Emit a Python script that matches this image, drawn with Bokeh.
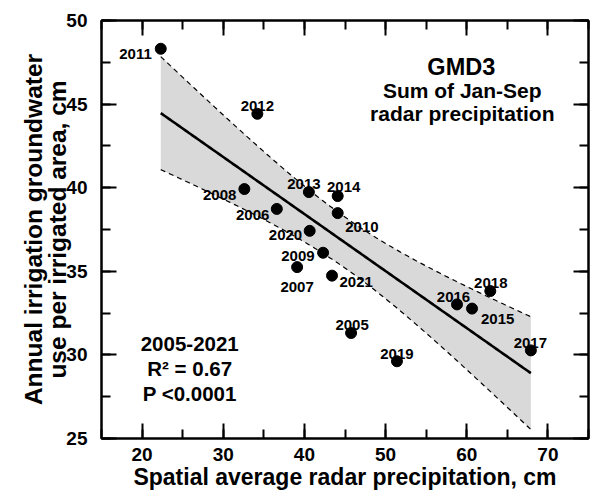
import numpy as np
from bokeh.plotting import figure
from bokeh.models import (Range1d, SingleIntervalTicker, LinearAxis, Label,
                          ColumnDataSource)
from bokeh.core.properties import value
from bokeh.embed import file_html
from bokeh.resources import INLINE

# ---------------- data ----------------
years = ["2011", "2012", "2008", "2006", "2013", "2014", "2010", "2020", "2009",
         "2007", "2021", "2016", "2015", "2018", "2005", "2019", "2017"]
precip_cm = [22.3, 34.2, 32.6, 36.6, 40.55, 44.1, 44.1, 40.65, 42.3,
             39.1, 43.4, 58.8, 60.65, 62.9, 45.75, 51.4, 67.9]
gw_use_cm = [48.31, 44.42, 39.92, 38.73, 39.74, 39.50, 38.48, 37.42, 36.11,
             35.25, 34.74, 33.02, 32.77, 33.82, 31.31, 29.62, 30.27]
x_ticks_major = 10
y_ticks_major = 5

# label placement (style): align, dx px, dy px (to alphabetic baseline)
placement = {
    "2011": ("right", -9, 5.5), "2012": ("center", 0, -7.5),
    "2008": ("right", -8, 6), "2006": ("right", -7.5, 6),
    "2013": ("center", -5, -8.5), "2014": ("center", 6, -9),
    "2010": ("left", 7.5, 14), "2020": ("right", -7.5, 4),
    "2009": ("right", -8.5, 3), "2007": ("center", 0, 20),
    "2021": ("left", 7.5, 6.5), "2016": ("center", -3.5, -7.5),
    "2015": ("left", 9, 10.5), "2018": ("center", 0.5, -8),
    "2005": ("center", 1, -7.5), "2019": ("center", 0, -7.5),
    "2017": ("center", -0.5, -7.5),
}

FONT = "Liberation Sans"

# ---------------- regression with 95% confidence band ----------------
xs = np.array(precip_cm)
ys = np.array(gw_use_cm)
n = len(xs)
slope, intercept = np.polyfit(xs, ys, 1)
xm = xs.mean()
sxx = ((xs - xm) ** 2).sum()
resid = ys - (intercept + slope * xs)
s = np.sqrt((resid ** 2).sum() / (n - 2))
t95 = 2.1314  # t(0.975, df=15)
xg = np.linspace(xs.min(), xs.max(), 200)
yhat = intercept + slope * xg
hw = t95 * s * np.sqrt(1.0 / n + (xg - xm) ** 2 / sxx)

# ---------------- figure ----------------
p = figure(width=600, height=493, x_range=Range1d(15, 75), y_range=Range1d(25, 50),
           output_backend="svg", toolbar_location=None,
           min_border_left=101, min_border_right=12, min_border_top=20,
           min_border_bottom=55)
p.xgrid.visible = False
p.ygrid.visible = False
p.outline_line_color = "black"
p.outline_line_width = 2
p.background_fill_color = "white"
p.border_fill_color = "white"

def style_axis(ax, show_labels):
    ax.axis_line_width = 2
    ax.axis_line_color = "black"
    ax.major_tick_in = 15
    ax.major_tick_out = 0
    ax.minor_tick_in = 9
    ax.minor_tick_out = 0
    ax.major_tick_line_width = 2
    ax.minor_tick_line_width = 2
    ax.major_tick_line_color = "black"
    ax.minor_tick_line_color = "black"
    ax.major_label_text_font = FONT
    ax.major_label_text_font_style = "bold"
    if show_labels:
        ax.major_label_text_color = "black"
        ax.major_label_text_font_size = "19px"
    else:
        ax.major_label_text_color = None
        ax.major_label_text_font_size = "1px"
        ax.major_label_standoff = 0

xt = SingleIntervalTicker(interval=x_ticks_major, num_minor_ticks=2)
yt = SingleIntervalTicker(interval=y_ticks_major, num_minor_ticks=2)

xa = p.xaxis[0]
xa.ticker = xt
style_axis(xa, True)
xa.major_label_standoff = 9
xa.axis_label = "Spatial average radar precipitation, cm"
xa.axis_label_standoff = 0
xa.axis_label_text_font = FONT
xa.axis_label_text_font_style = "bold"
xa.axis_label_text_font_size = "23px"
xa.axis_label_text_color = "black"

ya = p.yaxis[0]
ya.ticker = yt
style_axis(ya, True)
ya.major_label_standoff = 14
ya.axis_label = "Annual irrigation groundwater\nuse per irrigated area, cm"
ya.axis_label_standoff = -8
ya.axis_label_text_font = FONT
ya.axis_label_text_font_style = "bold"
ya.axis_label_text_font_size = "24.5px"
ya.axis_label_text_color = "black"
ya.axis_label_text_line_height = 0.9

top = LinearAxis(ticker=SingleIntervalTicker(interval=x_ticks_major, num_minor_ticks=2))
style_axis(top, False)
p.add_layout(top, "above")
right = LinearAxis(ticker=SingleIntervalTicker(interval=y_ticks_major, num_minor_ticks=2))
style_axis(right, False)
p.add_layout(right, "right")

# band and lines
p.varea(x=xg, y1=yhat - hw, y2=yhat + hw, fill_color="#d9d9d9", fill_alpha=1.0)
p.line(xg, yhat + hw, line_color="black", line_width=1.2, line_dash="5 4")
p.line(xg, yhat - hw, line_color="black", line_width=1.2, line_dash="5 4")
p.line(xg, yhat, line_color="black", line_width=2.6)

# points
p.scatter(xs, ys, size=11, fill_color="black", line_color="black")

# year labels
src = ColumnDataSource(dict(
    x=precip_cm, y=gw_use_cm, text=years,
    align=[placement[y][0] for y in years],
    dx=[placement[y][1] for y in years],
    dy=[placement[y][2] for y in years],
))
p.text(x="x", y="y", text="text", source=src, text_align="align",
       text_baseline="alphabetic", x_offset="dx", y_offset="dy",
       text_font=value(FONT), text_font_style="bold", text_font_size="15px",
       text_color="black")

# annotations
def add_label(x, y, txt, size):
    p.add_layout(Label(x=x, y=y, text=txt, text_align="center",
                       text_baseline="alphabetic", text_font=FONT,
                       text_font_style="bold", text_font_size=size,
                       text_color="black"))

add_label(59.33, 47.21, "GMD3", "23.5px")
add_label(59.45, 45.82, "Sum of Jan-Sep", "21px")
add_label(59.45, 44.46, "radar precipitation", "21px")

add_label(25.87, 30.63, "2005-2021", "20.5px")
add_label(25.87, 29.18, "R\u00b2 = 0.67", "20.5px")
add_label(25.87, 27.72, "P <0.0001", "20.5px")

open("out.html", "w").write(file_html(p, INLINE))
